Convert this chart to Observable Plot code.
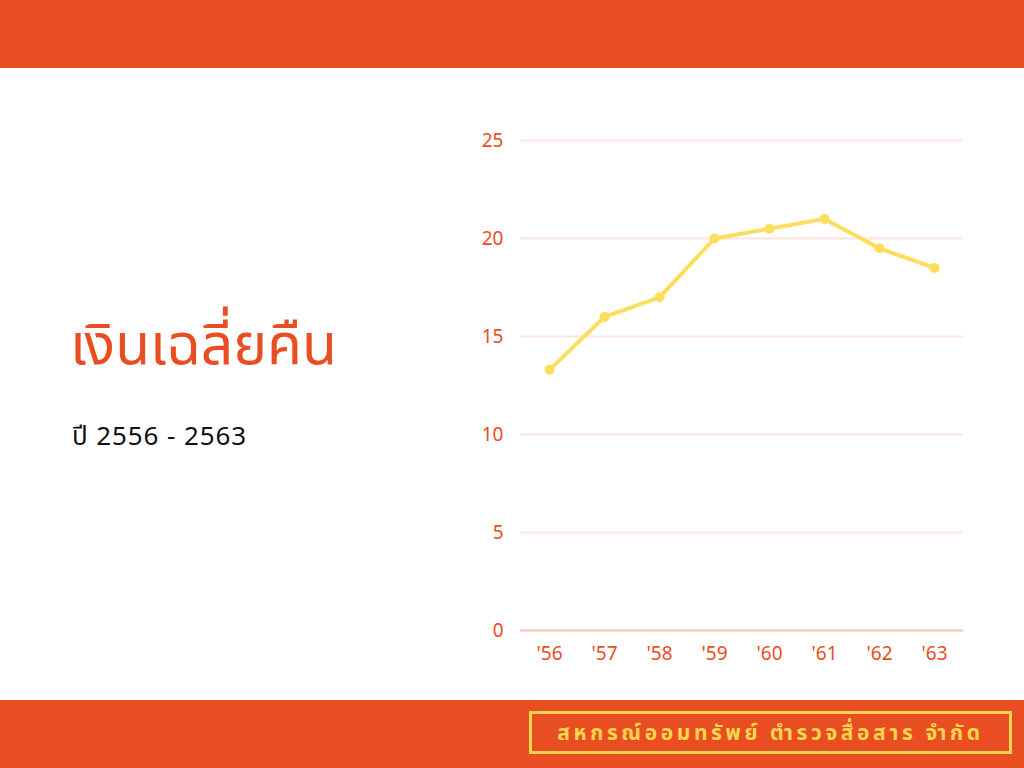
<!DOCTYPE html>
<html>
<head>
<meta charset="utf-8">
<script src="https://cdn.jsdelivr.net/npm/d3@7"></script>
<script src="https://cdn.jsdelivr.net/npm/@observablehq/plot@0.6"></script>
<style>
  html, body { margin: 0; padding: 0; }
  body { width: 1024px; height: 768px; position: relative; overflow: hidden; background: #fff; font-family: "Noto Sans", "Noto Sans Thai", Lato, sans-serif; }
  .band { position: absolute; left: 0; width: 1024px; height: 68px; background: #E94E23; }
  #top { top: 0; }
  #bottom { top: 700px; }
  #title { position: absolute; left: 70px; top: 303px; font-size: 57px; color: #E94E23; line-height: 1.4; white-space: nowrap; }
  #subtitle { position: absolute; left: 72px; top: 417px; font-size: 26px; letter-spacing: 0.9px; color: #111; line-height: 1.4; white-space: nowrap; }
  #footer { position: absolute; left: 529px; top: 711px; width: 477px; height: 37px; border: 3px solid #FFD54F; box-sizing: content-box; color: #FFD54F; font-weight: bold; font-size: 21px; letter-spacing: 3.6px; text-align: center; line-height: 37px; white-space: nowrap; }
  #chart { position: absolute; left: 460px; top: 110px; }
</style>
</head>
<body>
<div class="band" id="top"></div>
<div class="band" id="bottom"></div>
<div id="title">เงินเฉลี่ยคืน</div>
<div id="subtitle">ปี 2556 - 2563</div>
<div id="footer">สหกรณ์ออมทรัพย์ ตำรวจสื่อสาร จำกัด</div>
<div id="chart"></div>
<script>
const years = ["'56", "'57", "'58", "'59", "'60", "'61", "'62", "'63"];
const values = [13.3, 16, 17, 20, 20.5, 21, 19.5, 18.5];
const yTicks = [0, 5, 10, 15, 20, 25];

const data = years.map((y, i) => ({year: y, value: values[i]}));

const chart = Plot.plot({
  width: 520,
  height: 580,
  marginLeft: 60,
  marginRight: 17,
  marginTop: 30,
  marginBottom: 60,
  style: { fontFamily: "'Noto Sans', Lato, sans-serif", fontSize: "19px", color: "#E94E23", background: "transparent" },
  x: { type: "point", domain: years, padding: 0.5, label: null },
  y: { domain: [0, 25], ticks: yTicks, label: null },
  marks: [
    Plot.ruleY(yTicks.filter(d => d > 0), { stroke: "#FBE6DF", strokeWidth: 2 }),
    Plot.ruleY([0], { stroke: "#F8C3B3", strokeWidth: 2 }),
    Plot.axisY({ ticks: yTicks, tickSize: 0, tickPadding: 17, fill: "#E94E23", fontSize: 19 }),
    Plot.axisX({ tickSize: 0, tickPadding: 16, fill: "#E94E23", fontSize: 19 }),
    Plot.line(data, { x: "year", y: "value", stroke: "#FFDD5C", strokeWidth: 4 }),
    Plot.dot(data, { x: "year", y: "value", fill: "#FFDD5C", r: 5 })
  ]
});
document.getElementById("chart").appendChild(chart);
</script>
</body>
</html>
